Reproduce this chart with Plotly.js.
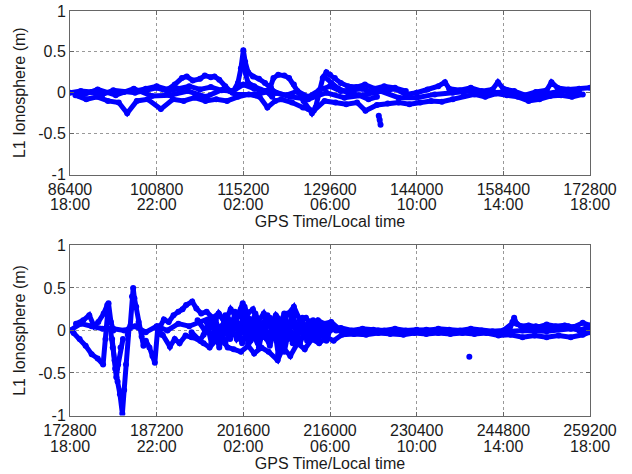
<!DOCTYPE html>
<html>
<head>
<meta charset="utf-8">
<script src="https://cdn.plot.ly/plotly-3.0.1.min.js"></script>
<style>html,body{margin:0;padding:0;background:#fff}#chart{width:632px;height:474px}</style>
</head>
<body>
<div id="chart"></div>
<script>
// ---- tick labels ----
const topTickVals = [86400, 100800, 115200, 129600, 144000, 158400, 172800];
const botTickVals = [172800, 187200, 201600, 216000, 230400, 244800, 259200];
const localTimes = ["18:00", "22:00", "02:00", "06:00", "10:00", "14:00", "18:00"];
const yTickVals = [-1, -0.5, 0, 0.5, 1];
const yTickText = ["-1", "-0.5", "0", "0.5", "1"];

// ---- day 1 (top panel) arcs: GPS time (s), L1 ionosphere (m) ----
const top1_t = [86400, 88200, 90000, 91800, 93600, 95400, 97200, 99000, 100800, 102600, 104400, 106200, 108000, 109800, 111600, 113400, 115200, 117000, 118800, 120600, 122400, 124200, 126000, 127800, 129600, 131400, 133200, 135000, 136800, 138600, 140400, 142200, 144000, 145800, 147600, 148700, 149400, 151200, 153000, 154800, 156600, 157500, 158400, 160200, 162000, 163800, 165600, 166400, 167400, 169200, 171000, 172800];
const top1_v = [0.0, 0.02, 0.01, -0.02, 0.03, 0.01, 0.0, 0.03, 0.06, 0.02, 0.05, 0.08, 0.04, 0.07, 0.03, 0.02, 0.1, 0.05, 0.02, 0.0, -0.03, 0.02, -0.05, 0.03, 0.08, 0.02, 0.04, 0.05, 0.0, 0.03, 0.05, -0.02, 0.0, 0.04, 0.08, 0.13, 0.05, 0.03, 0.06, 0.02, 0.04, 0.13, 0.05, 0.02, -0.03, 0.01, 0.03, 0.13, 0.06, 0.04, 0.05, 0.06];
const top2_t = [87300, 89100, 90900, 92700, 94500, 95900, 97500, 99300, 101500, 103500, 105300, 107100, 108900, 110700, 112500, 114300, 116100, 117900, 119200, 120500, 121500, 123300, 125100, 126900, 128700, 130500, 132300, 134100, 135500, 137400, 139200, 141000, 142800, 144600, 146400, 148200, 150000, 151800, 153600, 155400, 157200, 159000, 160800, 162600, 164400, 166200, 168000, 169800, 171600];
const top2_v = [-0.03, -0.08, -0.05, -0.1, -0.12, -0.25, -0.1, -0.08, -0.2, -0.08, -0.1, -0.06, -0.1, -0.08, -0.1, -0.05, -0.02, -0.05, -0.18, -0.1, -0.08, -0.12, -0.18, -0.22, -0.1, -0.12, -0.14, -0.12, -0.22, -0.15, -0.13, -0.12, -0.14, -0.12, -0.1, -0.11, -0.08, -0.04, -0.02, -0.05, -0.01, -0.03, -0.05, -0.1, -0.08, -0.04, -0.03, -0.05, -0.02];
const top3_t = [97200, 99000, 100800, 102600, 103800, 105000, 105800, 106800, 108000, 108800, 109800, 110400, 111200, 112200, 113000];
const top3_v = [0.02, 0.05, 0.08, 0.04, 0.1, 0.18, 0.2, 0.15, 0.17, 0.21, 0.19, 0.2, 0.16, 0.08, 0.02];
const top4_t = [113400, 114300, 114800, 115200, 115500, 116000, 116800, 117800, 118800, 119800, 120600];
const top4_v = [0.0, 0.12, 0.3, 0.52, 0.38, 0.25, 0.2, 0.17, 0.12, 0.06, 0.0];
const top5_t = [115300, 116000, 117000, 118000, 119000, 120000];
const top5_v = [0.3, 0.12, 0.08, 0.04, 0.02, -0.05];
const top6_t = [119600, 120200, 121000, 122000, 122800, 123600, 124400, 125200, 126000, 126600, 127200, 127800, 128400, 129000, 129600, 130400, 131400, 132600, 134000, 135400, 137000, 138600, 140400, 142200];
const top6_v = [0.05, 0.18, 0.22, 0.21, 0.18, 0.1, 0.0, -0.1, -0.2, -0.25, -0.18, 0.0, 0.18, 0.25, 0.22, 0.18, 0.12, 0.08, 0.07, 0.1, 0.05, 0.08, 0.06, 0.02];
const top7_t = [128600, 129800, 131000, 132600, 134400, 136000, 137400];
const top7_v = [0.2, 0.12, 0.05, 0.0, -0.03, -0.08, -0.05];
const top8_t = [137700, 137850, 138000];
const top8_v = [-0.28, -0.33, -0.39];
const top9_t = [88000, 91000, 94000, 97000, 100000, 103000, 106000, 109000, 112000, 114000, 117000, 120000, 123000, 126000, 129000, 132000, 135000, 138000, 141000, 144000, 147000, 150000, 153000, 156000, 159000, 162000, 165000, 168000, 171000];
const top9_v = [-0.04, 0.04, -0.03, 0.05, -0.04, -0.03, 0.02, -0.05, 0.05, -0.02, -0.02, 0.02, -0.05, -0.08, 0.0, -0.06, -0.03, 0.02, -0.06, -0.06, -0.02, 0.0, 0.02, 0.0, 0.01, -0.06, -0.02, 0.02, 0.0];

// ---- day 2 (bottom panel) arcs ----
const bot1_t = [172800, 174600, 176400, 178200, 180000, 181800, 183600, 185400, 187200, 189000, 190800, 192600, 194400, 196200, 198000, 199800, 201600, 203400, 205200, 207000, 208800, 210600, 212400, 214200, 216000, 217800, 219600, 221400, 223200, 225000, 226800, 228600, 230400, 232200, 234000, 235800, 237600, 239400, 241200, 243000, 244800, 246600, 248400, 250200, 252000, 253800, 255600, 257400, 259200];
const bot1_v = [0.0, 0.08, 0.05, 0.02, 0.02, 0.0, 0.05, -0.02, 0.05, 0.0, 0.08, 0.05, 0.1, 0.15, 0.0, 0.12, 0.2, 0.1, 0.05, 0.15, 0.1, 0.0, 0.08, 0.05, 0.0, 0.03, 0.0, 0.02, 0.01, 0.0, 0.02, 0.0, 0.01, 0.0, 0.02, 0.01, 0.0, 0.02, 0.0, -0.01, 0.0, 0.1, 0.02, 0.05, 0.03, 0.02, 0.05, 0.0, 0.05];
const bot2_t = [173400, 174400, 175400, 176400, 177400, 178300, 178700, 179200, 179600, 180000];
const bot2_v = [-0.03, -0.1, -0.18, -0.28, -0.33, -0.4, -0.1, 0.32, 0.1, 0.0];
const bot3_t = [173800, 175000, 176000, 176800, 177500, 178400, 179000];
const bot3_v = [0.08, 0.12, 0.18, 0.05, 0.1, 0.2, 0.3];
const bot4_t = [179500, 179900, 180300, 180700, 181100, 181500, 181800, 182100, 182400, 182600];
const bot4_v = [0.02, -0.2, -0.45, -0.6, -0.75, -0.98, -0.7, -0.4, -0.05, 0.02];
const bot5_t = [179800, 180200, 180500, 180800, 181200, 181600];
const bot5_v = [-0.1, -0.35, -0.55, -0.4, -0.2, -0.1];
const bot6_t = [182800, 183100, 183300, 183500, 183800, 184200, 184700, 185000, 185400, 186000, 186500, 186900, 187400, 188000];
const bot6_v = [0.05, 0.4, 0.5, 0.38, 0.28, 0.1, -0.07, -0.18, -0.12, -0.2, -0.3, -0.38, 0.05, -0.05];
const bot7_t = [187800, 188400, 189200, 190000, 190800, 191500, 192100, 193100, 193800, 194600, 195500, 196500, 197500, 198500];
const bot7_v = [0.05, 0.13, 0.1, 0.18, 0.22, 0.25, 0.3, 0.34, 0.26, 0.2, 0.22, 0.15, 0.2, 0.1];
const bot8_t = [188200, 189400, 190200, 191000, 192000, 193000, 194000, 195000, 196000, 197000, 198000, 199000, 200000, 201200, 202400, 203400, 204600, 205800, 207300, 208200, 209400, 210600, 211800, 213000, 214200, 215400, 216600, 218000, 220000, 222000, 224000, 226000, 228200, 230000, 232000, 234000, 236000, 238000, 240000, 242000, 244000, 246000, 248000, 250000, 252000, 254000, 256000, 258000, 259200];
const bot8_v = [-0.05, -0.19, -0.1, -0.15, -0.06, -0.08, -0.1, -0.15, -0.2, -0.12, -0.1, -0.2, -0.22, -0.25, -0.18, -0.27, -0.2, -0.25, -0.35, -0.2, -0.3, -0.15, -0.22, -0.1, -0.15, -0.08, -0.12, -0.05, -0.04, -0.05, -0.03, -0.04, -0.05, -0.03, -0.04, -0.03, -0.04, -0.03, -0.04, -0.03, -0.06, -0.05, -0.08, -0.06, -0.08, -0.06, -0.08, -0.05, -0.02];
const bot9_t = [196500, 197500, 198500, 199500, 200500, 201500, 202300, 203200, 204000, 205000, 206000, 207000, 208000, 209000, 210000, 211000, 212000, 213000, 214000, 215000, 216200, 217500];
const bot9_v = [0.05, 0.2, 0.1, 0.25, 0.15, 0.32, 0.2, 0.25, 0.1, 0.2, 0.05, 0.18, 0.1, 0.2, 0.28, 0.12, 0.15, 0.05, 0.12, 0.08, 0.1, 0.02];
const bot10_t = [195000, 196500, 198000, 199500, 200500, 201600, 202800, 204000, 205200, 206400, 207600, 208800, 210000, 211200, 212400, 213600, 214800, 216000];
const bot10_v = [-0.05, 0.08, -0.08, 0.05, -0.1, 0.0, -0.12, 0.05, -0.08, 0.02, -0.15, 0.05, -0.05, 0.08, -0.05, 0.02, -0.05, 0.02];
const bot11_t = [239150];
const bot11_v = [-0.31];
const bot12_t = [245800, 246300, 246600, 247000, 247800, 249000, 250500, 252000, 253500, 255000, 256500, 258000, 259200];
const bot12_v = [0.0, 0.1, 0.15, 0.08, 0.05, 0.06, 0.04, 0.07, 0.05, 0.06, 0.04, 0.09, 0.06];
const bot13_t = [195500, 196300, 197000, 197800, 198600, 199400, 200200, 201000, 201800, 202600, 203400, 204200, 205000, 205800, 206600, 207400, 208200, 209000, 209800, 210600, 211400, 212200, 213000, 213800, 214600, 215400, 216200];
const bot13_v = [0.1, -0.15, 0.12, -0.05, 0.18, -0.1, 0.22, -0.05, 0.28, 0.0, 0.15, -0.2, 0.1, -0.12, 0.12, -0.28, 0.08, -0.1, 0.22, -0.08, 0.15, -0.12, 0.1, -0.1, 0.05, -0.12, 0.05];
const bot14_t = [198000, 199000, 200000, 201000, 202000, 203000, 204000, 205000, 206000, 207000, 208000, 209000, 210000, 211000, 212000, 213000, 214000, 215000];
const bot14_v = [0.05, 0.15, 0.08, 0.2, 0.1, -0.05, -0.15, -0.05, 0.15, 0.05, -0.2, 0.0, 0.1, -0.15, 0.02, -0.05, 0.08, 0.0];
const bot15_t = [217000, 220000, 224000, 228000, 232000, 236000, 240000, 244000, 248000, 252000, 256000, 259200];
const bot15_v = [0.0, -0.02, 0.0, -0.02, 0.01, -0.01, 0.0, -0.02, 0.0, -0.01, 0.02, 0.0];
const bot16_t = [194000, 195200, 196400, 197600, 198800, 200000, 201200, 202400, 203600, 204800, 206000, 207200, 208400, 209600, 210800, 212000, 213200, 214400, 215600];
const bot16_v = [0.12, 0.0, 0.15, -0.2, 0.1, 0.05, 0.25, -0.15, 0.2, 0.0, -0.18, 0.1, -0.25, 0.15, 0.05, -0.08, 0.12, -0.02, 0.06];
const bot17_t = [193000, 194400, 195800, 197200, 198600, 200000, 201400, 202800, 204200, 205600, 207000, 208400, 209800, 211200, 212600, 214000, 215400];
const bot17_v = [-0.02, -0.12, 0.05, 0.0, -0.15, 0.12, -0.15, 0.1, -0.05, 0.18, -0.05, 0.2, -0.15, 0.0, 0.1, -0.1, 0.0];

const topArcs = [[top1_t, top1_v], [top2_t, top2_v], [top3_t, top3_v], [top4_t, top4_v], [top5_t, top5_v], [top6_t, top6_v], [top7_t, top7_v], [top8_t, top8_v], [top9_t, top9_v]];
const botArcs = [[bot1_t, bot1_v], [bot2_t, bot2_v], [bot3_t, bot3_v], [bot4_t, bot4_v], [bot5_t, bot5_v], [bot6_t, bot6_v], [bot7_t, bot7_v], [bot8_t, bot8_v], [bot9_t, bot9_v], [bot10_t, bot10_v], [bot11_t, bot11_v], [bot12_t, bot12_v], [bot13_t, bot13_v], [bot14_t, bot14_v], [bot15_t, bot15_v], [bot16_t, bot16_v], [bot17_t, bot17_v]];

const BLUE = "#0000ff";
const traces = [];
function addArcs(arcs, xa, ya) {
  arcs.forEach(a => {
    traces.push({
      type: "scatter", mode: "lines+markers", x: a[0], y: a[1],
      xaxis: xa, yaxis: ya, showlegend: false, hoverinfo: "skip",
      line: {color: BLUE, width: 5}, marker: {color: BLUE, size: 6}
    });
  });
}
addArcs(topArcs, "x", "y");
addArcs(botArcs, "x2", "y2");
// empty carriers so the local-time axes are drawn
traces.push({type: "scatter", mode: "markers", x: [], y: [], xaxis: "x3", yaxis: "y", showlegend: false, hoverinfo: "skip"});
traces.push({type: "scatter", mode: "markers", x: [], y: [], xaxis: "x4", yaxis: "y2", showlegend: false, hoverinfo: "skip"});

const fontFam = "Liberation Sans, Arial, Helvetica, sans-serif";
const FS = 16;
const TXT = "#1a1a1a";
const AX = "#666";
function xax(vals, anchor) {
  return {
    range: [vals[0], vals[vals.length - 1]], anchor: anchor,
    tickvals: vals, ticktext: vals.map(String),
    tickfont: {size: FS, color: TXT, family: fontFam},
    ticks: "inside", ticklen: 4, tickcolor: AX, mirror: "ticks",
    showline: true, linecolor: AX, linewidth: 1,
    showgrid: true, gridcolor: "#999", griddash: "dot", gridwidth: 1,
    zeroline: false
  };
}
function localAx(vals, overlay, pos) {
  return {
    range: [vals[0], vals[vals.length - 1]], overlaying: overlay, anchor: "free", position: pos,
    side: "bottom",
    tickvals: vals, ticktext: localTimes,
    tickfont: {size: FS, color: TXT, family: fontFam},
    ticks: "", showline: false, showgrid: false, zeroline: false,
    title: {text: "GPS Time/Local time", font: {size: FS, color: TXT, family: fontFam}, standoff: 2}
  };
}
function yax(dom, anchor) {
  return {
    domain: dom, range: [-1, 1], anchor: anchor,
    tickvals: yTickVals, ticktext: yTickText,
    tickfont: {size: FS, color: TXT, family: fontFam},
    ticks: "inside", ticklen: 4, tickcolor: AX, mirror: "ticks",
    showline: true, linecolor: AX, linewidth: 1,
    showgrid: true, gridcolor: "#999", griddash: "dot", gridwidth: 1,
    zeroline: false,
    title: {text: "L1 Ionosphere (m)", font: {size: FS, color: TXT, family: fontFam}, standoff: 8}
  };
}

const layout = {
  width: 632, height: 474,
  margin: {l: 70, r: 42, t: 11, b: 20},
  paper_bgcolor: "#fff", plot_bgcolor: "#fff",
  showlegend: false,
  xaxis: xax(topTickVals, "y"),
  yaxis: yax([0.6309, 1], "x"),
  xaxis2: xax(botTickVals, "y2"),
  yaxis2: yax([0.0869, 0.4707], "x2"),
  xaxis3: localAx(topTickVals, "x", 0.5892),
  xaxis4: localAx(botTickVals, "x2", 0.0429)
};

Plotly.newPlot("chart", traces, layout, {staticPlot: true, displayModeBar: false});
</script>
</body>
</html>
